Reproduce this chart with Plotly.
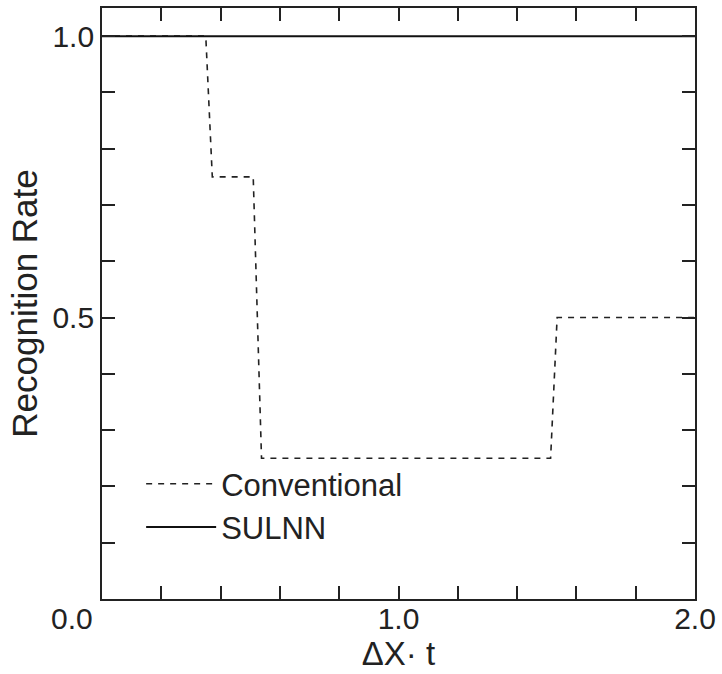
import plotly.graph_objects as go

# Data
conv_x = [0.0, 0.350, 0.372, 0.510, 0.538, 1.513, 1.535, 2.0]
conv_y = [1.0, 1.0, 0.75, 0.75, 0.25, 0.25, 0.5, 0.5]
sulnn_x = [0.0, 2.0]
sulnn_y = [1.0, 1.0]

x_tickvals = [0.0, 0.2, 0.4, 0.6, 0.8, 1.0, 1.2, 1.4, 1.6, 1.8, 2.0]
x_ticktext = ["", "", "", "", "", "1.0", "", "", "", "", "2.0"]
y_tickvals = [0.0, 0.1, 0.2, 0.3, 0.4, 0.5, 0.6, 0.7, 0.8, 0.9, 1.0]
y_ticktext = ["", "", "", "", "", "0.5", "", "", "", "", "1.0"]
origin_label = "0.0"  # shared origin label at the lower-left corner

FONT = "Liberation Sans, Arial, Helvetica, sans-serif"

fig = go.Figure()
fig.add_trace(go.Scatter(
    x=conv_x, y=conv_y, mode="lines", name="Conventional",
    line=dict(color="#222222", width=1.6, dash="6px,6px"),
))
fig.add_trace(go.Scatter(
    x=sulnn_x, y=sulnn_y, mode="lines", name="SULNN",
    line=dict(color="#111111", width=2),
))

axis_common = dict(
    showline=True, linecolor="#222222", linewidth=1.8, mirror="ticks",
    ticks="inside", ticklen=13, tickwidth=1.5, tickcolor="#222222",
    showgrid=False, zeroline=False,
    tickfont=dict(family=FONT, size=30, color="#222222"),
)

fig.add_annotation(
    x=x_tickvals[0], y=y_tickvals[0], xref="x", yref="y",
    text=origin_label, showarrow=False,
    xanchor="right", yanchor="middle", xshift=-7, yshift=-19,
    font=dict(family=FONT, size=30, color="#222222"),
)

fig.update_layout(
    width=722, height=674,
    margin=dict(l=102, r=27, t=6, b=75),
    paper_bgcolor="white", plot_bgcolor="white",
    font=dict(family=FONT, color="#222222"),
    showlegend=True,
    legend=dict(
        x=0.066, y=0.24, xanchor="left", yanchor="top",
        bgcolor="rgba(0,0,0,0)", borderwidth=0,
        font=dict(family=FONT, size=31, color="#222222"),
        itemwidth=70, tracegroupgap=0,
    ),
    xaxis=dict(
        range=[0, 2.0], tickvals=x_tickvals, ticktext=x_ticktext,
        ticklabelstandoff=-8,
        title=dict(text="\u00a0\u00a0\u00a0\u00a0ΔX· t", font=dict(family=FONT, size=33), standoff=2),
        **axis_common,
    ),
    yaxis=dict(
        range=[0, 1.05], tickvals=y_tickvals, ticktext=y_ticktext,
        title=dict(text="Recognition Rate", font=dict(family=FONT, size=35), standoff=4),
        **axis_common,
    ),
)

fig.write_html("out.html")
